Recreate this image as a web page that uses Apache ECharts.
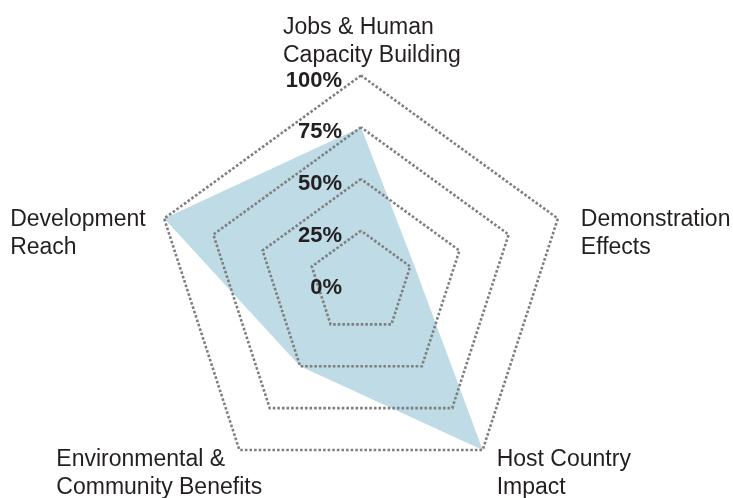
<!DOCTYPE html>
<html>
<head>
<meta charset="utf-8">
<script src="https://cdn.jsdelivr.net/npm/echarts@6/dist/echarts.min.js"></script>
<style>
html,body{margin:0;padding:0;background:#fff;}
#chart{width:733px;height:498px;}
</style>
</head>
<body>
<div id="chart"></div>
<script>
// Indicators listed counter-clockwise from the top (ECharts radar order)
var indicatorNames = [
  'Jobs & Human\nCapacity Building',
  'Development\nReach',
  'Environmental &\nCommunity Benefits',
  'Host Country\nImpact',
  'Demonstration\nEffects'
];
var scoreValues = [75, 100, 50, 100, 27];
var tickMax = 100;
var tickSplits = 4;

var namePads = [
  [-49, 0, 0, -78],
  [-13, 0, 0, -154],
  [-4, 0, 0, -183],
  [-4, 0, 0, 14],
  [-13, 0, 0, 23]
];

var indicators = indicatorNames.map(function (n, i) {
  var ind = {
    name: n,
    max: tickMax,
    min: 0,
    nameTextStyle: { align: 'left', verticalAlign: 'top', padding: namePads[i] }
  };
  if (i === 0) {
    ind.axisLabel = {
      show: true,
      formatter: '{value}%',
      fontWeight: 'bold',
      fontSize: 22,
      color: '#231f20',
      fontFamily: 'Liberation Sans, Arial, sans-serif',
      margin: 19,
      verticalAlign: 'top',
      lineHeight: 10
    };
  }
  return ind;
});

var chart = echarts.init(document.getElementById('chart'));
chart.setOption({
  backgroundColor: '#ffffff',
  animation: false,
  radar: {
    z: 3,
    center: [361, 282.5],
    radius: 207,
    startAngle: 90,
    splitNumber: tickSplits,
    shape: 'polygon',
    nameGap: 0,
    indicator: indicators,
    axisName: {
      color: '#231f20',
      fontSize: 23,
      lineHeight: 28,
      fontFamily: 'Liberation Sans, Arial, sans-serif'
    },
    axisLine: { show: false },
    axisTick: { show: false },
    axisLabel: { show: false },
    splitArea: { show: false },
    splitLine: {
      lineStyle: { color: '#7f7f7f', width: 2.6, type: [2.6, 2] }
    }
  },
  series: [{
    type: 'radar',
    z: 2,
    symbol: 'none',
    lineStyle: { width: 0, opacity: 0 },
    areaStyle: { color: '#bedbe6', opacity: 1 },
    data: [{ value: scoreValues }]
  }]
});
</script>
</body>
</html>
